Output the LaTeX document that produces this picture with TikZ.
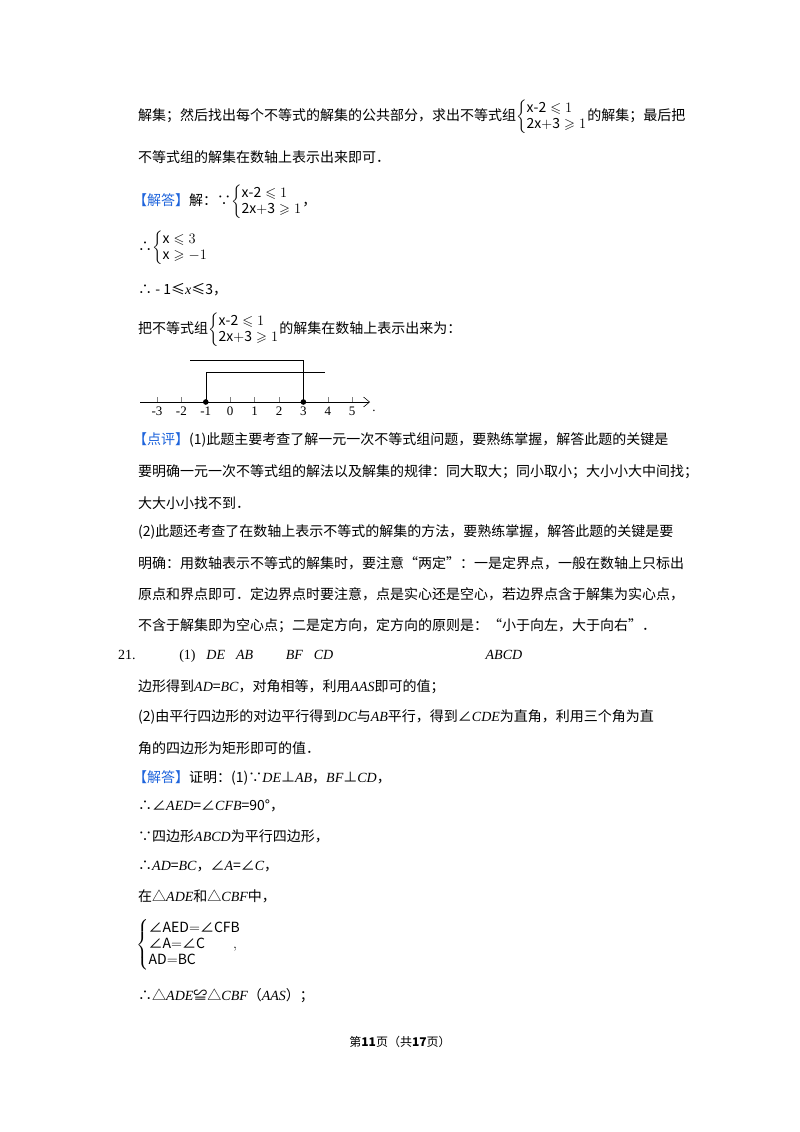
\documentclass[tikz,border=0pt]{standalone}
\usepackage{amsmath,amssymb}
\usepackage{fontspec}
\usetikzlibrary{arrows.meta}
\setmainfont{Noto Sans CJK SC}
\newfontfamily\lat{Liberation Serif}
\newcommand{\mi}[1]{{\lat\itshape #1}}
\newcommand{\sysb}[1]{$\left\{\begin{array}{@{}l@{}}#1\end{array}\right.$}
\definecolor{hl}{RGB}{30,100,220}
\newcommand{\hltag}[1]{\textcolor{hl}{【#1】}}
\begin{document}
\begin{tikzpicture}[x=1pt,y=-1pt,
  ln/.style={anchor=west,inner sep=0pt,font=\fontsize{14}{16}\selectfont},
  tk/.style={line width=0.6pt}]
\useasboundingbox (0,0) rectangle (800,1132);
\fill[white] (0,0) rectangle (800,1132);
\node[ln] (l1) at (138,117) {解集；然后找出每个不等式的解集的公共部分，求出不等式组\sysb{\mathrm{x\text{-}2}\leqslant 1\\ \mathrm{2x{+}3}\geqslant 1}的解集；最后把};
\node[ln] (l2) at (138,157) {不等式组的解集在数轴上表示出来即可．};
\node[ln] (l3) at (133,202) {\hltag{解答}解：∵\sysb{\mathrm{x\text{-}2}\leqslant 1\\ \mathrm{2x{+}3}\geqslant 1}，};
\node[ln] (l4) at (138,248) {∴\sysb{\mathrm{x}\leqslant 3\\ \mathrm{x}\geqslant -1}};
\node[ln] (l5) at (138,290) {∴ - 1≤\mi{x}≤3，};
\node[ln] (l6) at (138,330) {把不等式组\sysb{\mathrm{x\text{-}2}\leqslant 1\\ \mathrm{2x{+}3}\geqslant 1}的解集在数轴上表示出来为：};
% number line
\coordinate (a0) at (140,402);
\coordinate (a1) at (370,402);
\draw[tk,-{Straight Barb[length=6pt,width=10pt]}] (a0) -- (a1);
\foreach \v [count=\i from 0] in {-3,-2,-1,0,1,2,3,4,5}{
  \coordinate (t\i) at (157+24.4*\i,402);
  \draw[line width=0.4pt,gray] (t\i) -- ++(0,-5);
  \node[font=\fontsize{13}{14}\selectfont,inner sep=0pt] (n\i) at (157+24.4*\i,411) {\lat \v};
}
\node[font=\fontsize{13}{14}\selectfont,inner sep=0pt] (dot) at (374,411) {\lat .};
\coordinate (u1) at (190,360); \coordinate (u2) at (t6 |- u1);
\coordinate (w2) at (325,372); \coordinate (w1) at (t2 |- w2);
\draw[tk] (u1) -- (u2) -- (t6);
\draw[tk] (t2) -- (w1) -- (w2);
\fill (t2) circle (2.8pt); \fill (t6) circle (2.8pt);
\node[ln] (l7) at (133,440) {\hltag{点评}(1)此题主要考查了解一元一次不等式组问题，要熟练掌握，解答此题的关键是};
\node[ln] (l8) at (138,472) {要明确一元一次不等式组的解法以及解集的规律：同大取大；同小取小；大小小大中间找；};
\node[ln] (l9) at (138,503) {大大小小找不到．};
\node[ln] (l10) at (138,532) {(2)此题还考查了在数轴上表示不等式的解集的方法，要熟练掌握，解答此题的关键是要};
\node[ln] (l11) at (138,563) {明确：用数轴表示不等式的解集时，要注意“两定”：一是定界点，一般在数轴上只标出};
\node[ln] (l12) at (138,594) {原点和界点即可．定边界点时要注意，点是实心还是空心，若边界点含于解集为实心点，};
\node[ln] (l13) at (138,626) {不含于解集即为空心点；二是定方向，定方向的原则是：“小于向左，大于向右”．};
\node[ln] (l14) at (118,656) {\lat 21.\hltag{分析}(1)由\mi{DE}与\mi{AB}垂直，\mi{BF}与\mi{CD}垂直，得到一对直角相等，再由\mi{ABCD}为平行四};
\node[ln] (l15) at (138,687) {边形得到\mi{AD}=\mi{BC}，对角相等，利用\mi{AAS}即可的值；};
\node[ln] (l16) at (138,717) {(2)由平行四边形的对边平行得到\mi{DC}与\mi{AB}平行，得到∠\mi{CDE}为直角，利用三个角为直};
\node[ln] (l17) at (138,748) {角的四边形为矩形即可的值．};
\node[ln] (l18) at (133,778) {\hltag{解答}证明：(1)∵\mi{DE}⊥\mi{AB}，\mi{BF}⊥\mi{CD}，};
\node[ln] (l19) at (138,806) {∴∠\mi{AED}=∠\mi{CFB}=90°，};
\node[ln] (l20) at (138,836) {∵四边形\mi{ABCD}为平行四边形，};
\node[ln] (l21) at (138,866) {∴\mi{AD}=\mi{BC}，∠\mi{A}=∠\mi{C}，};
\node[ln] (l22) at (138,896) {在△\mi{ADE}和△\mi{CBF}中，};
\node[ln] (l23) at (136,945) {\sysb{\text{∠}\mathrm{AED}{=}\text{∠}\mathrm{CFB}\\ \text{∠}\mathrm{A}{=}\text{∠}\mathrm{C}\qquad ,\\ \mathrm{AD}{=}\mathrm{BC}}};
\node[ln] (l24) at (138,996) {∴△\mi{ADE}≌△\mi{CBF}（\mi{AAS}）；};
\node[inner sep=0pt,font=\fontsize{12}{14}\selectfont] (ft) at (400,1042) {第\textbf{11}页（共\textbf{17}页）};
\end{tikzpicture}
\end{document}
